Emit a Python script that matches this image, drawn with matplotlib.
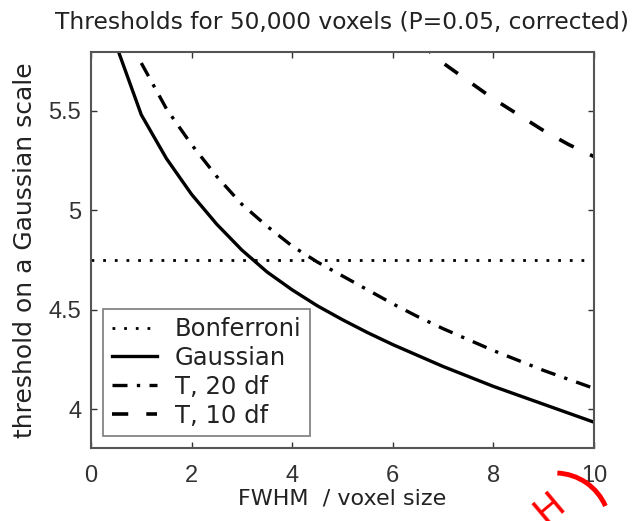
import matplotlib
matplotlib.use("Agg")
import matplotlib.pyplot as plt
from matplotlib.patches import Arc

plt.rcParams['font.family'] = ['DejaVu Sans']

# Data
fwhm_gauss = [0.5, 1, 1.5, 2, 2.5, 3, 3.5, 4, 4.5, 5, 5.5, 6, 6.5, 7, 7.5, 8, 8.5, 9, 9.5, 10]
gaussian = [5.83, 5.48, 5.26, 5.08, 4.93, 4.80, 4.69, 4.60, 4.52, 4.45, 4.385, 4.325, 4.27, 4.215, 4.165, 4.115, 4.07, 4.025, 3.98, 3.935]

fwhm_t20 = [1, 1.5, 2, 2.5, 3, 3.5, 4, 4.5, 5, 5.5, 6, 6.5, 7, 7.5, 8, 8.5, 9, 9.5, 10]
t20 = [5.74, 5.51, 5.33, 5.17, 5.03, 4.92, 4.82, 4.74, 4.67, 4.60, 4.53, 4.465, 4.405, 4.35, 4.295, 4.245, 4.195, 4.15, 4.105]

fwhm_t10 = [6, 6.5, 7, 7.5, 8, 8.5, 9, 9.5, 10]
t10 = [5.96, 5.85, 5.74, 5.65, 5.56, 5.48, 5.40, 5.33, 5.27]

fwhm_bonf = [0, 10]
bonferroni = [4.75, 4.75]

xticks = [0, 2, 4, 6, 8, 10]
yticks = [4, 4.5, 5, 5.5]
ytick_labels = ['4', '4.5', '5', '5.5']

fig = plt.figure(figsize=(6.35, 5.21), dpi=100)
ax = fig.add_axes([0.1433, 0.140, 0.7921, 0.760])

ax.plot(fwhm_bonf, bonferroni, color='black', linestyle=(0, (1, 3.2)), linewidth=2.0, label='Bonferroni')
ax.plot(fwhm_gauss, gaussian, color='black', linestyle='-', linewidth=2.4, label='Gaussian')
ax.plot(fwhm_t20, t20, color='black', linestyle=(0, (4.5, 2.8, 1, 2.8)), linewidth=2.4, label='T, 20 df')
ax.plot(fwhm_t10, t10, color='black', linestyle=(0, (4.5, 5)), linewidth=2.6, label='T, 10 df')

ax.set_xlim(0, 10)
ax.set_ylim(3.805, 5.795)
ax.set_xticks(xticks)
ax.set_xticklabels([str(v) for v in xticks], family='Liberation Sans')
ax.set_yticks(yticks)
ax.set_yticklabels(ytick_labels, family='Liberation Sans')
ax.tick_params(axis='both', direction='in', length=4, width=1, top=True, right=True,
               labelsize=17, colors='#333333')
ax.tick_params(axis='x', pad=12)
ax.tick_params(axis='y', pad=7)
for s in ax.spines.values():
    s.set_color('#555555')
    s.set_linewidth(1.5)

ax.set_title('Thresholds for 50,000 voxels (P=0.05, corrected)', fontsize=16.8, color='#222222', pad=16.5)
ax.set_xlabel('FWHM  / voxel size', fontsize=16, color='#222222', labelpad=1)
ax.set_ylabel('threshold on a Gaussian scale', fontsize=18, color='#222222', labelpad=8)

leg = ax.legend(loc='lower left', bbox_to_anchor=(0.024, 0.030), fontsize=17.5,
                frameon=True, fancybox=False, edgecolor='#666666', handlelength=1.85,
                handletextpad=0.75, borderpad=0.35, labelspacing=0.2, borderaxespad=0)
leg.get_frame().set_linewidth(1.3)
for t in leg.get_texts():
    t.set_color('#222222')

# red stamp mark in lower right corner
arc = Arc((555 / 635, 1 - 528 / 521), 110 / 635, 110 / 521, angle=0, theta1=28, theta2=88,
          transform=fig.transFigure, color='red', linewidth=3.5)
fig.add_artist(arc)
fig.text(550 / 635, 1 - 508 / 521, 'H', color='red', fontsize=27, rotation=40,
         ha='center', va='center')

fig.savefig('out.png', dpi=100)
